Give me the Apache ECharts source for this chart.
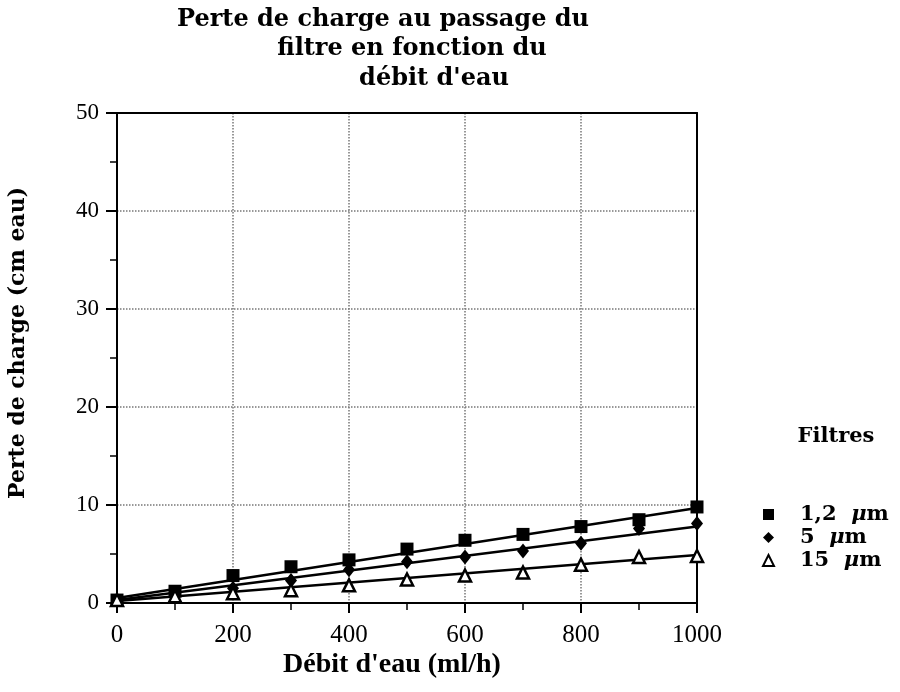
<!DOCTYPE html>
<html>
<head>
<meta charset="utf-8">
<script src="https://cdn.jsdelivr.net/npm/echarts@6/dist/echarts.min.js"></script>
<style>
  html, body { margin: 0; padding: 0; background: #fff; }
  #chart { width: 900px; height: 692px; }
</style>
</head>
<body>
<div id="chart"></div>
<script>
// débit d'eau (ml/h)
const debit = [0, 100, 200, 300, 400, 500, 600, 700, 800, 900, 1000];
// perte de charge (cm eau)
const filtre12 = [0.3, 1.2, 2.8, 3.7, 4.4, 5.5, 6.4, 7.0, 7.8, 8.5, 9.8];
const filtre5 = [0.3, 0.8, 1.5, 2.3, 3.4, 4.2, 4.7, 5.3, 6.1, 7.6, 8.1];
const filtre15 = [0.3, 0.7, 1.0, 1.3, 1.8, 2.4, 2.8, 3.1, 3.9, 4.7, 4.8];
// droites de régression (extrémités)
const fitX = [0, 1000];
const fit12 = [0.5, 9.7];
const fit5 = [0.3, 7.8];
const fit15 = [0.2, 4.9];

const noms = ['1,2  μm', '5  μm', '15  μm'];
const titre = ['Perte de charge au passage du', 'filtre en fonction du', 'débit d\'eau'];

const serif = 'Liberation Serif';
const large = 'DejaVu Serif';

function pairs(xs, ys) {
    return xs.map((x, i) => [x, ys[i]]);
}

const myChart = echarts.init(document.getElementById('chart'));

// titre sur trois lignes, décalées comme sur l'original
const titreX = [383, 412, 434];
const titreY = [20, 49, 79];
const titreGraphics = titre.map((t, i) => ({
    type: 'text',
    x: titreX[i],
    y: titreY[i],
    style: {
        text: t,
        font: 'bold 24px "DejaVu Serif"',
        fill: '#000',
        align: 'center',
        verticalAlign: 'middle'
    }
}));

const axisFrame = {
    axisLine: { show: true, onZero: false, lineStyle: { color: '#000', width: 2 } },
    axisTick: { show: false },
    axisLabel: { show: false },
    splitLine: { show: false }
};

myChart.setOption({
    animation: false,
    backgroundColor: '#fff',
    graphic: titreGraphics.concat([
        {
            type: 'text',
            x: 836,
            y: 437,
            style: {
                text: 'Filtres',
                font: 'bold 21px "DejaVu Serif"',
                fill: '#000',
                align: 'center',
                verticalAlign: 'middle'
            }
        },
        {
            type: 'text',
            x: 18,
            y: 343,
            rotation: Math.PI / 2,
            style: {
                text: 'Perte de charge (cm eau)',
                font: 'bold 22px "DejaVu Serif"',
                fill: '#000',
                align: 'center',
                verticalAlign: 'middle'
            }
        },
        {
            type: 'text',
            x: 392,
            y: 665,
            style: {
                text: 'Débit d\'eau (ml/h)',
                font: 'bold 28px "Liberation Serif"',
                fill: '#000',
                align: 'center',
                verticalAlign: 'middle'
            }
        }
    ]),
    legend: {
        orient: 'vertical',
        left: 757,
        top: 499,
        itemGap: 2,
        itemWidth: 11,
        itemHeight: 11,
        data: [
            { name: noms[0], icon: 'rect' },
            { name: noms[1], icon: 'diamond' },
            { name: noms[2], icon: 'triangle' }
        ],
        formatter: function (name) {
            const p = name.split('μ');
            return '{n|' + p[0] + '}{u|μ}{n|' + p[1] + '}';
        },
        textStyle: {
            padding: [0, 0, 0, 21],
            rich: {
                n: { fontFamily: large, fontWeight: 'bold', fontSize: 21, color: '#000', lineHeight: 21 },
                u: { fontFamily: large, fontWeight: 'bold', fontStyle: 'italic', fontSize: 21, color: '#000', lineHeight: 21 }
            }
        }
    },
    grid: {
        left: 117,
        right: 203,
        top: 113,
        bottom: 89
    },
    xAxis: [{
        type: 'value',
        min: 0,
        max: 1000,
        interval: 200,
        axisLine: { show: true, lineStyle: { color: '#000', width: 2 } },
        axisTick: { show: true, length: 10, lineStyle: { color: '#000', width: 2 } },
        minorTick: { show: true, splitNumber: 2, length: 7, lineStyle: { color: '#000', width: 1.5 } },
        axisLabel: {
            fontFamily: serif, fontSize: 25, color: '#000', margin: 20,
            formatter: function (v) { return String(v); }
        },
        splitLine: { show: true, lineStyle: { color: '#777', type: 'dotted', width: 1.5 } }
    }, Object.assign({ type: 'value', position: 'top', min: 0, max: 1000 }, axisFrame)],
    yAxis: [{
        type: 'value',
        min: 0,
        max: 50,
        interval: 10,
        axisLine: { show: true, lineStyle: { color: '#000', width: 2 } },
        axisTick: { show: true, length: 11, lineStyle: { color: '#000', width: 2 } },
        minorTick: { show: true, splitNumber: 2, length: 7, lineStyle: { color: '#000', width: 1.5 } },
        axisLabel: { fontFamily: serif, fontSize: 23, color: '#000', margin: 18 },
        splitLine: { show: true, lineStyle: { color: '#777', type: 'dotted', width: 1.5 } }
    }, Object.assign({ type: 'value', position: 'right', min: 0, max: 50 }, axisFrame)],
    series: [
        {
            type: 'line', data: pairs(fitX, fit12), symbol: 'none', silent: true,
            lineStyle: { color: '#000', width: 2.5 }, z: 2
        },
        {
            type: 'line', data: pairs(fitX, fit5), symbol: 'none', silent: true,
            lineStyle: { color: '#000', width: 2.5 }, z: 2
        },
        {
            type: 'line', data: pairs(fitX, fit15), symbol: 'none', silent: true,
            lineStyle: { color: '#000', width: 2.5 }, z: 2
        },
        {
            name: noms[0], type: 'scatter', data: pairs(debit, filtre12),
            symbol: 'rect', symbolSize: 13,
            itemStyle: { color: '#000', opacity: 1 }, z: 3
        },
        {
            name: noms[1], type: 'scatter', data: pairs(debit, filtre5),
            symbol: 'diamond', symbolSize: [12, 15],
            itemStyle: { color: '#000', opacity: 1 }, z: 3
        },
        {
            name: noms[2], type: 'scatter', data: pairs(debit, filtre15),
            symbol: 'triangle', symbolSize: 12,
            itemStyle: { color: '#fff', borderColor: '#000', borderWidth: 2.5, opacity: 1 }, z: 4
        }
    ]
});
</script>
</body>
</html>
